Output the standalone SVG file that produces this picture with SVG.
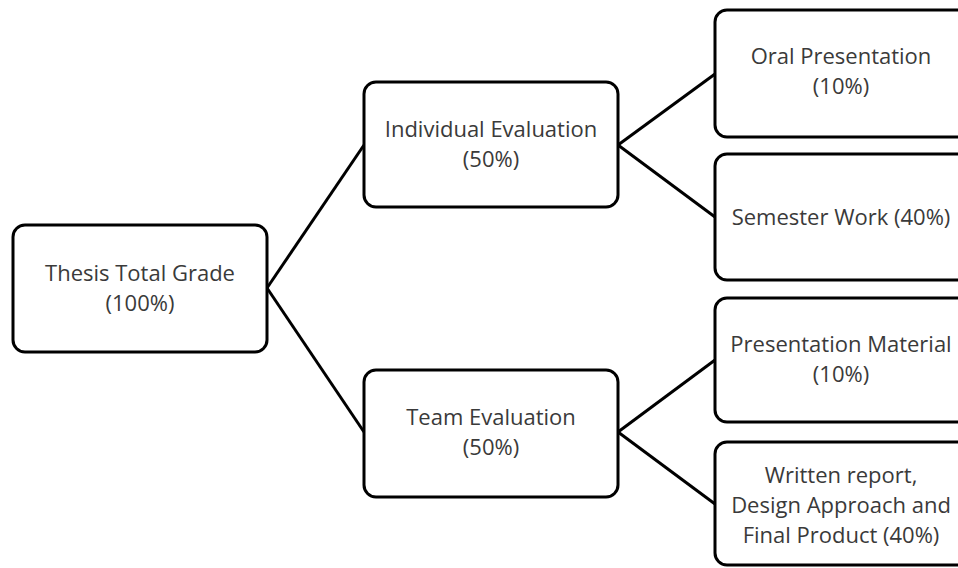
<svg xmlns="http://www.w3.org/2000/svg" width="958" height="568" viewBox="0 0 958 568">
<style>
.box{fill:#fff;stroke:#000;stroke-width:3}
.lbl{font-family:"Open Sans","Liberation Sans",sans-serif;font-size:22px;fill:#3a3a3a;text-anchor:middle}
.con{stroke:#000;stroke-width:3;fill:none}
</style>
<rect width="958" height="568" fill="#fff"/>
<g id="connectors">
<line class="con" x1="267" y1="288" x2="364" y2="145"/>
<line class="con" x1="267" y1="288" x2="364" y2="432"/>
<line class="con" x1="618" y1="145" x2="715" y2="74"/>
<line class="con" x1="618" y1="145" x2="715" y2="217"/>
<line class="con" x1="618" y1="432" x2="715" y2="360"/>
<line class="con" x1="618" y1="432" x2="715" y2="504"/>
</g>
<g id="thesis">
<rect class="box" x="13" y="225" width="254" height="127" rx="12"/>
<text class="lbl" x="140" y="281">Thesis Total Grade</text>
<text class="lbl" x="140" y="311">(100%)</text>
</g>
<g id="individual">
<rect class="box" x="364" y="82" width="254" height="125" rx="12"/>
<text class="lbl" x="491" y="137">Individual Evaluation</text>
<text class="lbl" x="491" y="167">(50%)</text>
</g>
<g id="team">
<rect class="box" x="364" y="370" width="254" height="127" rx="12"/>
<text class="lbl" x="491" y="425">Team Evaluation</text>
<text class="lbl" x="491" y="455">(50%)</text>
</g>
<g id="oral">
<rect class="box" x="715" y="10" width="254" height="127" rx="12"/>
<text class="lbl" x="841" y="64">Oral Presentation</text>
<text class="lbl" x="841" y="94">(10%)</text>
</g>
<g id="semester">
<rect class="box" x="715" y="154" width="254" height="126" rx="12"/>
<text class="lbl" x="841" y="225">Semester Work (40%)</text>
</g>
<g id="material">
<rect class="box" x="715" y="298" width="254" height="124" rx="12"/>
<text class="lbl" x="841" y="352">Presentation Material</text>
<text class="lbl" x="841" y="382">(10%)</text>
</g>
<g id="written">
<rect class="box" x="715" y="442" width="254" height="123" rx="12"/>
<text class="lbl" x="841" y="483">Written report,</text>
<text class="lbl" x="841" y="513">Design Approach and</text>
<text class="lbl" x="841" y="543">Final Product (40%)</text>
</g>
</svg>
